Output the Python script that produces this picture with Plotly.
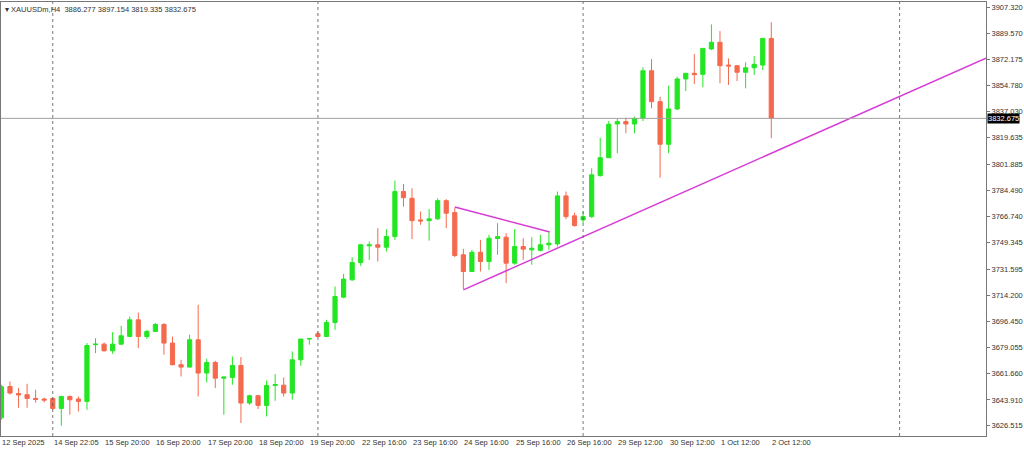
import plotly.graph_objects as go

opens = [3631.9, 3652.9, 3648.2, 3647.4, 3644.9, 3644.5, 3644.9, 3638.2, 3646.2, 3644.5,
         3642.9, 3680.9, 3681.3, 3676.8, 3681.3, 3686.4, 3697.6, 3686.4, 3689.8, 3694.5,
         3682.0, 3667.5, 3665.9, 3684.2, 3661.9, 3669.0, 3658.5, 3658.9, 3667.0, 3641.8,
         3646.7, 3640.2, 3653.6, 3653.8, 3648.5, 3670.8, 3684.7, 3688.2, 3686.4, 3695.8,
         3712.8, 3724.4, 3736.0, 3747.2, 3747.9, 3746.3, 3753.4, 3783.6, 3779.1, 3764.6,
         3764.1, 3765.3, 3777.5, 3769.5, 3741.2, 3730.0, 3742.9, 3736.7, 3752.1, 3753.0,
         3735.6, 3746.7, 3744.5, 3744.2, 3747.9, 3748.5, 3780.7, 3767.3, 3764.6, 3766.8,
         3794.3, 3806.3, 3828.9, 3830.5, 3828.9, 3832.7, 3864.6, 3843.9, 3815.3, 3839.0,
         3859.1, 3862.9, 3862.2, 3879.2, 3883.7, 3868.4, 3868.0, 3863.6, 3866.6, 3868.4,
         3886.277]
highs = [3654.0, 3656.3, 3652.0, 3654.7, 3650.7, 3645.3, 3645.5, 3646.7, 3646.9, 3646.2,
         3682.0, 3685.3, 3682.4, 3689.4, 3693.6, 3699.8, 3702.5, 3690.9, 3695.4, 3695.4,
         3686.4, 3670.8, 3687.6, 3707.7, 3671.5, 3670.1, 3659.6, 3673.0, 3672.6, 3647.4,
         3647.4, 3656.9, 3661.2, 3658.9, 3676.4, 3684.7, 3685.3, 3689.8, 3697.6, 3719.9,
         3728.4, 3739.6, 3748.5, 3750.1, 3759.0, 3758.4, 3790.9, 3788.7, 3785.8, 3770.2,
         3771.8, 3779.1, 3778.5, 3772.8, 3745.2, 3744.5, 3751.2, 3754.6, 3762.4, 3755.7,
         3758.4, 3752.3, 3753.0, 3754.6, 3756.1, 3783.6, 3783.6, 3769.5, 3770.2, 3799.2,
         3819.7, 3830.9, 3832.7, 3833.1, 3833.8, 3866.9, 3872.5, 3847.2, 3854.6, 3860.6,
         3862.9, 3875.8, 3879.8, 3895.7, 3891.2, 3872.9, 3868.4, 3870.3, 3874.5, 3886.3,
         3897.154]
lows = [3630.6, 3647.5, 3638.6, 3638.6, 3642.0, 3642.2, 3637.3, 3626.6, 3634.0, 3636.1,
        3637.3, 3675.3, 3676.4, 3674.8, 3680.9, 3686.4, 3678.6, 3684.7, 3689.6, 3674.2,
        3667.1, 3659.6, 3665.8, 3646.2, 3655.6, 3651.8, 3634.0, 3654.0, 3628.4, 3640.7,
        3637.8, 3632.8, 3643.3, 3646.2, 3644.0, 3666.8, 3680.9, 3686.0, 3686.2, 3690.9,
        3712.1, 3723.7, 3733.8, 3737.8, 3736.7, 3743.4, 3751.2, 3773.5, 3751.7, 3761.3,
        3750.7, 3764.6, 3759.0, 3739.6, 3718.2, 3729.8, 3730.0, 3731.1, 3741.2, 3722.2,
        3734.5, 3737.8, 3734.5, 3743.4, 3744.5, 3746.7, 3765.1, 3760.1, 3762.4, 3765.9,
        3793.6, 3806.1, 3809.3, 3822.7, 3822.7, 3830.9, 3839.4, 3792.9, 3809.3, 3838.3,
        3851.0, 3855.7, 3853.5, 3878.5, 3856.2, 3855.1, 3857.7, 3852.8, 3861.8, 3865.1,
        3819.335]
closes = [3652.7, 3648.5, 3647.2, 3644.9, 3644.2, 3643.8, 3638.2, 3646.2, 3644.0, 3642.9,
          3680.4, 3681.3, 3676.8, 3681.3, 3686.9, 3697.6, 3686.4, 3689.8, 3694.5, 3682.0,
          3667.5, 3665.9, 3684.2, 3661.9, 3669.0, 3658.5, 3659.2, 3667.0, 3641.8, 3646.7,
          3640.2, 3653.6, 3654.2, 3648.5, 3670.8, 3684.7, 3685.1, 3686.4, 3695.8, 3713.2,
          3724.9, 3736.0, 3747.9, 3747.9, 3746.3, 3753.4, 3783.6, 3779.5, 3764.1, 3763.9,
          3765.3, 3777.5, 3769.1, 3740.7, 3730.0, 3742.9, 3736.7, 3752.3, 3753.4, 3735.6,
          3746.7, 3745.0, 3745.6, 3747.9, 3749.0, 3780.7, 3766.8, 3760.8, 3766.8, 3794.8,
          3806.3, 3828.7, 3830.5, 3828.9, 3832.7, 3864.6, 3843.9, 3815.3, 3839.0, 3859.1,
          3862.9, 3862.0, 3879.6, 3883.7, 3868.0, 3867.8, 3863.6, 3866.6, 3868.9, 3886.3,
          3832.675]

# time labels (bar index, text)
time_pos = [0, 6, 12, 18, 24, 30, 36, 42, 48, 54, 60, 66, 72, 78, 84, 90]
time_text = ["12 Sep 2025", "14 Sep 22:05", "15 Sep 20:00", "16 Sep 20:00", "17 Sep 20:00",
             "18 Sep 20:00", "19 Sep 20:00", "22 Sep 16:00", "23 Sep 16:00", "24 Sep 16:00",
             "25 Sep 16:00", "26 Sep 16:00", "29 Sep 12:00", "30 Sep 12:00", "1 Oct 12:00",
             "2 Oct 12:00"]
price_ticks = [3907.320, 3889.570, 3872.175, 3854.780, 3837.030, 3819.635, 3801.885,
               3784.490, 3766.740, 3749.345, 3731.595, 3714.200, 3696.450, 3679.055,
               3661.660, 3643.910, 3626.515]
separators = [6, 37, 68, 105]
last_price = 3832.675

# trend lines (bar index, price)
support_x = [54.0, 115.1]
support_y = [3717.7, 3873.1]
upper_x = [53.0, 64.1]
upper_y = [3773.3, 3756.5]

fig = go.Figure()
fig.add_trace(go.Candlestick(
    x=list(range(len(opens))), open=opens, high=highs, low=lows, close=closes,
    increasing=dict(line=dict(color="#22e622", width=1), fillcolor="#22e622"),
    decreasing=dict(line=dict(color="#f5694d", width=1), fillcolor="#f5694d"),
    whiskerwidth=0, hoverinfo="skip",
))
fig.add_trace(go.Scatter(x=support_x, y=support_y, mode="lines",
                         line=dict(color="#d63cd6", width=1.5), hoverinfo="skip"))
fig.add_trace(go.Scatter(x=upper_x, y=upper_y, mode="lines",
                         line=dict(color="#d63cd6", width=1.5), hoverinfo="skip"))

for s in separators:
    fig.add_vline(x=s, line=dict(color="#555", width=0.8, dash="dot"))
fig.add_hline(y=last_price, line=dict(color="#a0a0a0", width=1))

font = dict(family="Liberation Sans", size=7.5, color="#333")
for p, t in zip(time_pos, time_text):
    fig.add_annotation(x=p, y=0, xref="x", yref="paper", yanchor="top", xanchor="left",
                       text=t, showarrow=False, font=font, xshift=-1, yshift=0)
fig.add_annotation(x=1, y=last_price, xref="paper", yref="y", xanchor="left",
                   text="%.3f" % last_price, showarrow=False, bgcolor="black",
                   font=dict(family="Liberation Sans", size=7.5, color="white"),
                   borderpad=0, xshift=1)
fig.add_annotation(x=0, y=1, xref="paper", yref="paper", xanchor="left", yanchor="top",
                   text="▾ XAUUSDm,H4  3886.277 3897.154 3819.335 3832.675",
                   showarrow=False, font=font, xshift=2, yshift=-1)

fig.update_layout(
    width=1024, height=449, showlegend=False,
    margin=dict(l=1, r=38, t=2, b=13, autoexpand=False),
    paper_bgcolor="white", plot_bgcolor="white",
    xaxis=dict(range=[-0.05, 115.1], rangeslider=dict(visible=False), showgrid=False,
               zeroline=False, showticklabels=False, ticks="", automargin=False,
               showline=True, linecolor="#777", mirror=True),
    yaxis=dict(range=[3619.7, 3910.7], side="right", tickvals=price_ticks,
               ticktext=["%.3f" % v for v in price_ticks], tickfont=font, automargin=False,
               ticks="outside", ticklen=3, tickcolor="#777", showgrid=False, zeroline=False,
               showline=True, linecolor="#777", mirror=True),
)

fig.write_html("out.html", config={'displayModeBar': False},
               post_script="document.body.style.margin='0';document.body.style.overflow='hidden';")
